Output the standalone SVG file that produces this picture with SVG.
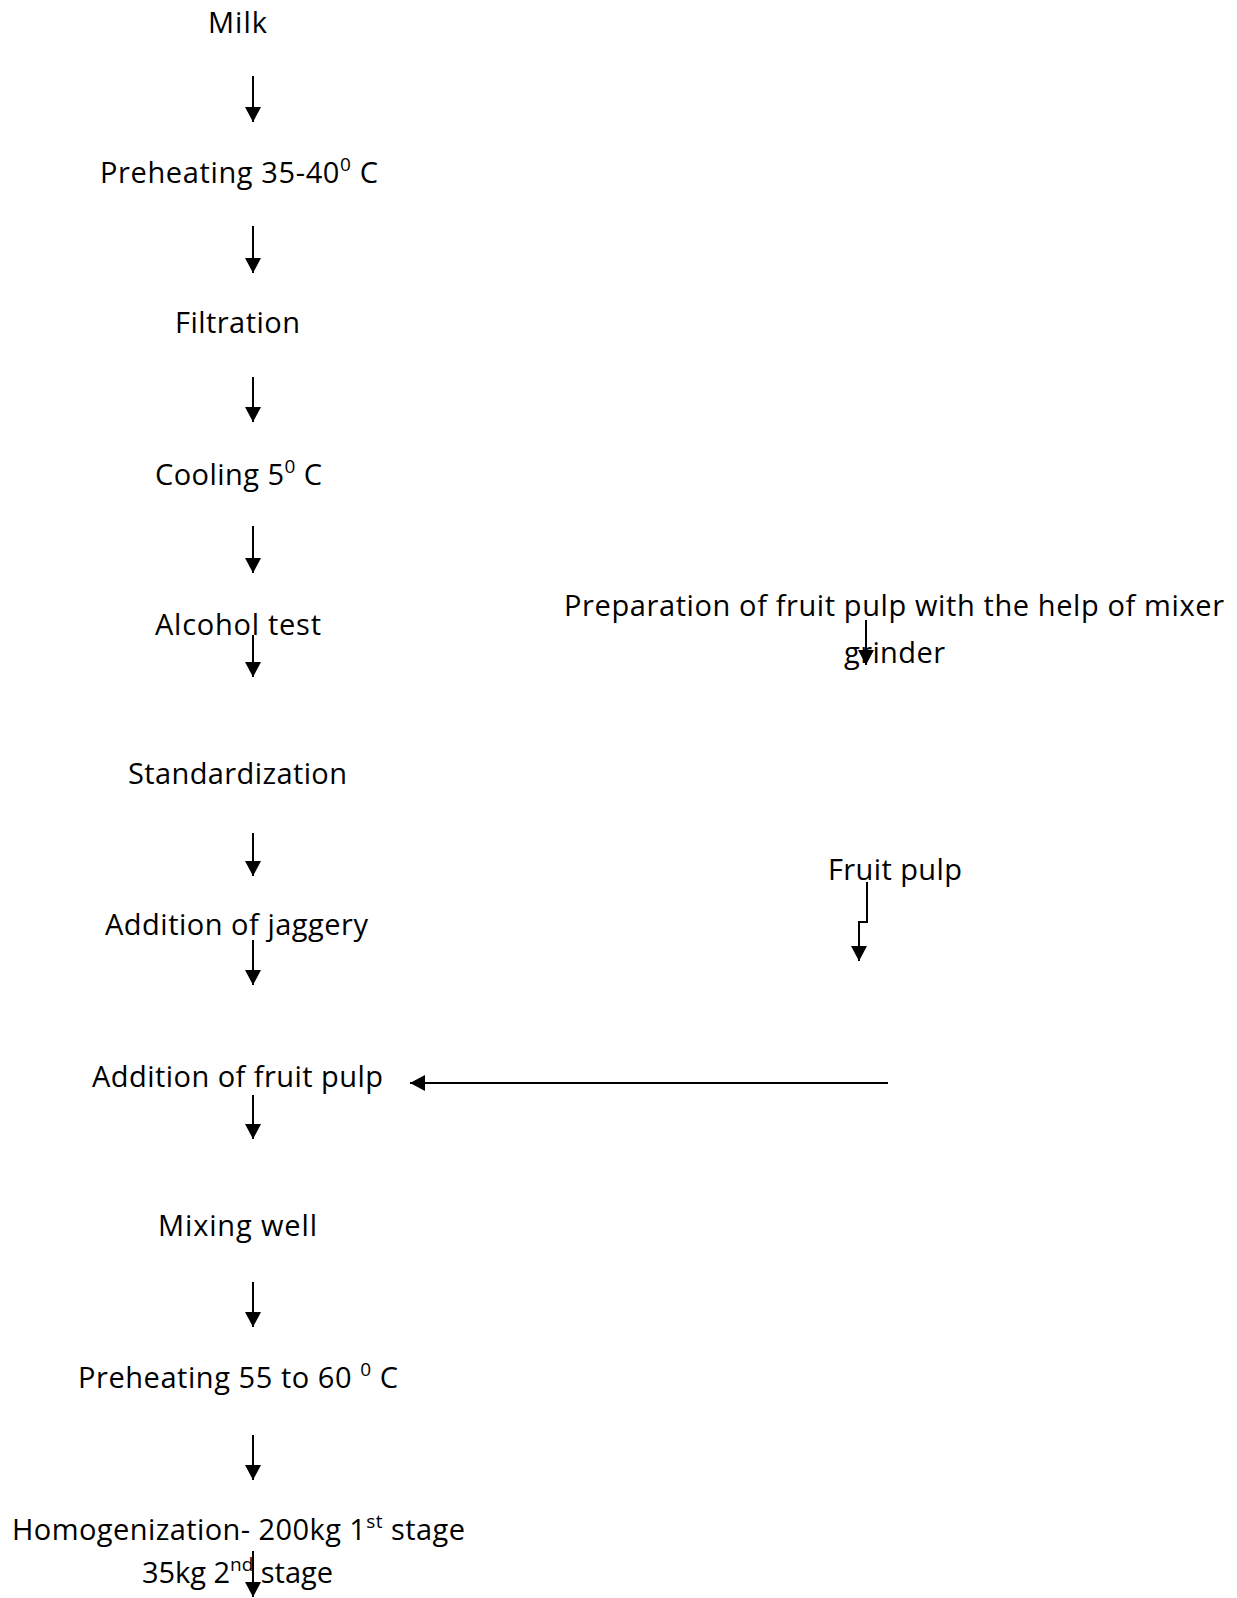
<svg xmlns="http://www.w3.org/2000/svg" width="1237" height="1598" viewBox="0 0 1237 1598">
<defs>
<style>
text{font-family:"Open Sans","Noto Sans","Liberation Sans",sans-serif;font-size:29px;fill:#000;font-variant-ligatures:none;}
.sup{font-size:19px;}
.c{fill:none;stroke:#000;stroke-width:2;}
</style>
<marker id="ah" viewBox="0 0 15 16" refX="15" refY="8" markerWidth="15" markerHeight="16" markerUnits="userSpaceOnUse" orient="auto">
<path d="M0 0 L15 8 L0 16 Z" fill="#000"/>
</marker>
</defs>
<rect width="1237" height="1598" fill="#fff"/>
<g id="connectors">
<path class="c" d="M253 76 V122" marker-end="url(#ah)"/>
<path class="c" d="M253 226 V273" marker-end="url(#ah)"/>
<path class="c" d="M253 377 V422" marker-end="url(#ah)"/>
<path class="c" d="M253 526 V573" marker-end="url(#ah)"/>
<path class="c" d="M253 635 V677" marker-end="url(#ah)"/>
<path class="c" d="M253 833 V876" marker-end="url(#ah)"/>
<path class="c" d="M253 940 V985" marker-end="url(#ah)"/>
<path class="c" d="M253 1095 V1139" marker-end="url(#ah)"/>
<path class="c" d="M253 1282 V1327" marker-end="url(#ah)"/>
<path class="c" d="M253 1435 V1480" marker-end="url(#ah)"/>
<path class="c" d="M253 1551 V1597" marker-end="url(#ah)"/>
<path class="c" d="M866 620 V665" marker-end="url(#ah)"/>
<path class="c" d="M867 882 V922 H859 V961" marker-end="url(#ah)"/>
<path class="c" d="M888 1083 H410" marker-end="url(#ah)"/>
</g>
<g id="n-milk"><text x="208" y="33" textLength="59">Milk</text></g>
<g id="n-preheat1"><text x="100" y="183" textLength="278">Preheating 35-40<tspan class="sup" dy="-12">0</tspan><tspan dy="12"> C</tspan></text></g>
<g id="n-filtration"><text x="175" y="333" textLength="125">Filtration</text></g>
<g id="n-cooling"><text x="155" y="485" textLength="167">Cooling 5<tspan class="sup" dy="-12">0</tspan><tspan dy="12"> C</tspan></text></g>
<g id="n-alcohol"><text x="155" y="635" textLength="166">Alcohol test</text></g>
<g id="n-standard"><text x="128" y="784" textLength="219">Standardization</text></g>
<g id="n-jaggery"><text x="105" y="935" textLength="263">Addition of jaggery</text></g>
<g id="n-addpulp"><text x="92" y="1087" textLength="291">Addition of fruit pulp</text></g>
<g id="n-mixing"><text x="158" y="1236" textLength="159">Mixing well</text></g>
<g id="n-preheat2"><text x="78" y="1388" textLength="320">Preheating 55 to 60 <tspan class="sup" dy="-12">0</tspan><tspan dy="12"> C</tspan></text></g>
<g id="n-homog">
<text x="12" y="1540" textLength="453">Homogenization- 200kg 1<tspan class="sup" dy="-12">st</tspan><tspan dy="12"> stage</tspan></text>
<text x="142" y="1583" textLength="191">35kg 2<tspan class="sup" dy="-12">nd</tspan><tspan dy="12"> stage</tspan></text>
</g>
<g id="n-prep">
<text x="564" y="616" textLength="660">Preparation of fruit pulp with the help of mixer</text>
<text x="844" y="663" textLength="101">grinder</text>
</g>
<g id="n-fruitpulp"><text x="828" y="880" textLength="134">Fruit pulp</text></g>
</svg>
